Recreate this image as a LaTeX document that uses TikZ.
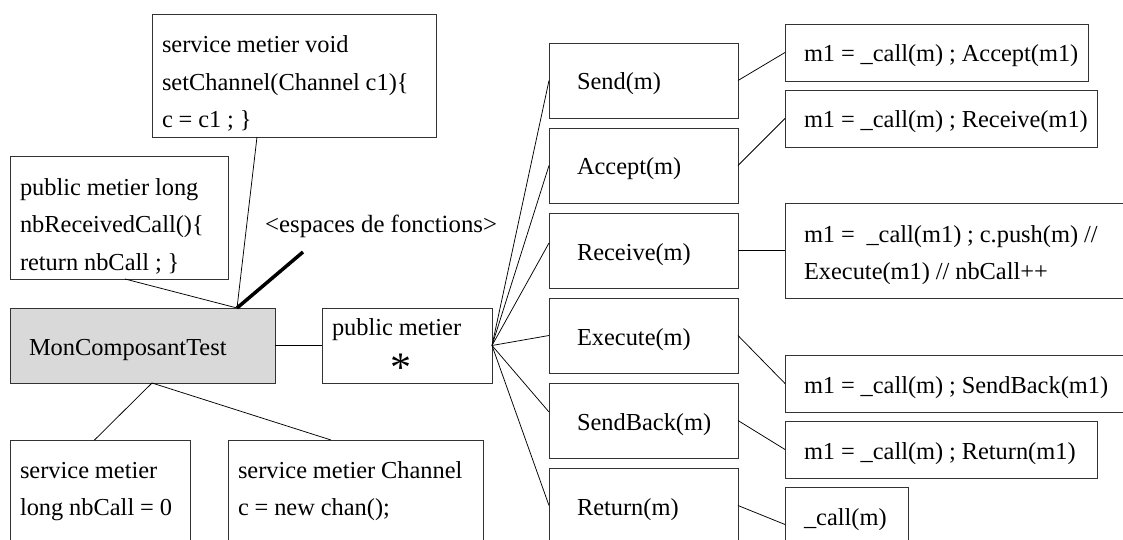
\documentclass[tikz,border=0pt]{standalone}
\usepackage{fontspec}
\setmainfont{Liberation Serif}
\usetikzlibrary{calc}
\newcommand\bt[4]{\leftskip=#1\relax\spaceskip=0.24em\relax\rule{0pt}{#2}#4\rule[-#3]{0pt}{#3}\par}
\definecolor{boxgray}{gray}{0.85}
\definecolor{edge}{gray}{0.2}
\begin{document}
\begin{tikzpicture}[x=1pt,y=-1pt,
  tbox/.style={draw=edge, line width=0.9pt, anchor=north west, inner sep=0pt, outer sep=0pt, align=left, font=\fontsize{24.4}{37.5}\selectfont},
  meth/.style={tbox, text width=189pt, minimum height=75pt},
  conn/.style={draw=black, line width=0.75pt},
  thick line/.style={draw=black, line width=3.5pt}]
\useasboundingbox (0,0) rectangle (1123,540);
\clip (0,0) rectangle (1123,540);

% left part
\node[tbox, text width=284pt, minimum height=123pt] (setch) at (152,14)
  {\bt{10pt}{39pt}{9pt}{service metier void\\setChannel(Channel c1)\{\\c = c1 ; \}}};
\node[tbox, text width=218pt, minimum height=123pt] (nbrec) at (10,156)
  {\bt{10pt}{39pt}{9pt}{public metier long\\nbReceivedCall()\{\\return nbCall ; \}}};
\node[anchor=base west, inner sep=0pt, font=\fontsize{24.8}{37.5}\selectfont] (esp) at (265,232) {<espaces de fonctions>};
\node[tbox, fill=boxgray, text width=265pt, minimum height=75pt] (mct) at (10,308)
  {\bt{19pt}{47pt}{28pt}{MonComposantTest}};
\node[tbox, text width=170pt, minimum height=75pt] (pub) at (322,308)
  {\bt{10pt}{27pt}{10.5pt}{public metier\\\hspace*{58pt}\raisebox{-9pt}{\fontsize{42}{37.5}\selectfont *}}};
\node[tbox, text width=180pt, minimum height=123pt] (bsm) at (10,440)
  {\bt{10pt}{38pt}{47.5pt}{service metier\\long nbCall = 0}};
\node[tbox, text width=255pt, minimum height=123pt] (bch) at (228,440)
  {\bt{10pt}{38pt}{47.5pt}{service metier Channel\\c = new chan();}};

% method boxes
\node[meth] (send) at (549,43) {\bt{28pt}{47pt}{28pt}{Send(m)}};
\node[meth] (accept) at (549,128) {\bt{28pt}{47pt}{28pt}{Accept(m)}};
\node[meth] (receive) at (549,213) {\bt{28pt}{47pt}{28pt}{Receive(m)}};
\node[meth] (execute) at (549,298) {\bt{28pt}{47pt}{28pt}{Execute(m)}};
\node[meth] (sendback) at (549,383) {\bt{28pt}{47pt}{28pt}{SendBack(m)}};
\node[meth] (ret) at (549,468) {\bt{28pt}{47pt}{28pt}{Return(m)}};

% right boxes
\node[tbox, text width=303pt, minimum height=57pt] (r1) at (785,24)
  {\bt{19pt}{38pt}{19pt}{m1 = \_call(m) ; Accept(m1)}};
\node[tbox, text width=312pt, minimum height=57pt] (r2) at (785,90)
  {\bt{19pt}{38pt}{19pt}{m1 = \_call(m) ; Receive(m1)}};
\node[tbox, text width=360pt, minimum height=95pt] (r3) at (785,203)
  {\bt{19pt}{39pt}{18.5pt}{m1 = \ \_call(m1) ; c.push(m) //\\Execute(m1) // nbCall++}};
\node[tbox, text width=360pt, minimum height=57pt] (r4) at (785,355)
  {\bt{19pt}{38pt}{19pt}{m1 = \_call(m) ; SendBack(m1)}};
\node[tbox, text width=312pt, minimum height=57pt] (r5) at (785,421)
  {\bt{19pt}{38pt}{19pt}{m1 = \_call(m) ; Return(m1)}};
\node[tbox, text width=123pt, minimum height=75pt] (r6) at (785,487)
  {\bt{19pt}{38pt}{37pt}{\_call(m)}};

% helper points
\coordinate (mcttop) at ($(mct.north west)+(227,0)$);
\coordinate (mctbot) at ($(mct.south west)+(142,0)$);
\coordinate (espend) at (303,252);

% connectors
\draw[conn] ($(setch.south west)+(105,0)$) -- (mcttop);
\draw[conn] ($(nbrec.south west)+(115,0)$) -- (mcttop);
\draw[thick line] (mcttop) -- (espend);
\draw[conn] (mct.east) -- (pub.west);
\draw[conn] (mctbot) -- ($(bsm.north west)+(84.5,0)$);
\draw[conn] (mctbot) -- ($(bch.north west)+(103,0)$);

\draw[conn] (pub.east) -- (send.west);
\draw[conn] (pub.east) -- (accept.west);
\draw[conn] (pub.east) -- ($(receive.north west)+(0,30)$);
\draw[conn] (pub.east) -- (execute.west);
\draw[conn] (pub.east) -- ($(sendback.north west)+(0,29)$);
\draw[conn] (pub.east) -- (ret.west);

\draw[conn] (send.east) -- (r1.west);
\draw[conn] (accept.east) -- (r2.west);
\draw[conn] (receive.east) -- (r3.west);
\draw[conn] (execute.east) -- (r4.west);
\draw[conn] (sendback.east) -- (r5.west);
\draw[conn] (ret.east) -- (r6.west);
\end{tikzpicture}
\end{document}
